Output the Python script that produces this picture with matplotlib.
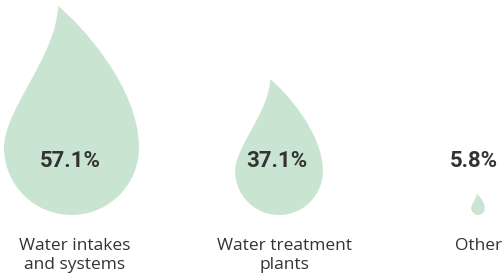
import matplotlib.pyplot as plt
from matplotlib.path import Path
from matplotlib.patches import PathPatch

categories = ["Water intakes\nand systems", "Water treatment\nplants", "Other"]
shares = [57.1, 37.1, 5.8]

# layout (pixel coordinates, y grows downward)
drop_x = [71.5, 279, 478]
pct_x = [70, 277, 474]
label_x = [75, 284.5, 478.5]
drop_bottom = 215
px_per_pct = 135 / 57.1

DROP_COLOR = "#c9e5d2"
TEXT_COLOR = "#333333"


def drop_path(cx, bottom, size):
    # unit drop: width 1, bottom at (0, 0), tip leaning left, y up
    k = 0.5523 * 0.5
    pts = [
        (-0.10, 1.548),
        (0.06, 1.42), (0.50, 0.95), (0.50, 0.50),
        (0.50, 0.50 - k), (k, 0.0), (0.0, 0.0),
        (-k, 0.0), (-0.50, 0.50 - k), (-0.50, 0.50),
        (-0.50, 0.78), (-0.11, 1.18), (-0.10, 1.548),
    ]
    codes = [Path.MOVETO] + [Path.CURVE4] * 12
    verts = [(cx + x * size, bottom - y * size) for x, y in pts]
    return Path(verts, codes)


def main():
    fig = plt.figure(figsize=(5.04, 2.78), dpi=100)
    ax = fig.add_axes([0, 0, 1, 1])
    ax.set_xlim(0, 504)
    ax.set_ylim(278, 0)
    ax.axis("off")

    for i, v in enumerate(shares):
        size = v * px_per_pct
        ax.add_patch(PathPatch(drop_path(drop_x[i], drop_bottom, size),
                               facecolor=DROP_COLOR, edgecolor="none"))
        ax.text(pct_x[i], 161, f"{v}%", ha="center", va="center",
                fontsize=16, fontweight="bold", family="Roboto",
                color=TEXT_COLOR)
        ax.text(label_x[i], 238.5, categories[i], ha="center", va="top",
                fontsize=12.5, family="Open Sans", color=TEXT_COLOR,
                linespacing=1.22)

    fig.savefig("out.png", dpi=100)


if __name__ == "__main__":
    main()
